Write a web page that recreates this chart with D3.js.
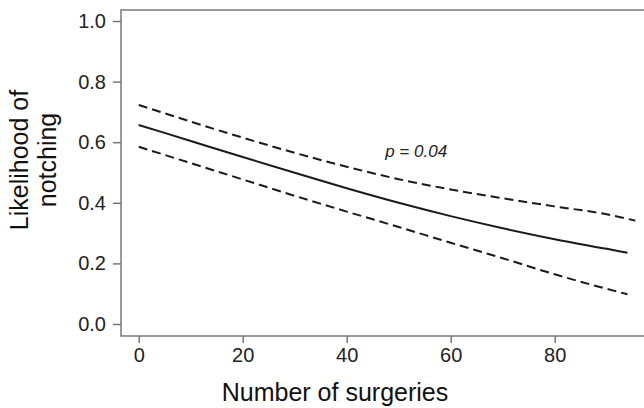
<!DOCTYPE html>
<html lang="en">
<head>
    <meta charset="UTF-8">
    <title>Likelihood of notching</title>
    <script src="https://cdn.jsdelivr.net/npm/d3@7/dist/d3.min.js"></script>
    <style>
        body{
            margin: 0;
            background: white;
            font-family: "Liberation Sans", Arial, sans-serif;
        }
        .axis text{
            font-family: "Liberation Sans", Arial, sans-serif;
            font-size: 20px;
            fill: #222;
        }
        .axis .tick line{
            stroke: #707070;
            stroke-width: 1.4;
        }
        .axis path{
            display: none;
        }
        .title{
            font-size: 25px;
            fill: #111;
        }
    </style>
</head>
<body>
<svg id="main" width="644" height="408"></svg>
<script>
    const width = 644, height = 408;

    // data
    const surgeries = [0, 10, 20, 30, 40, 50, 60, 70, 80, 90, 94];
    const fitted = [0.657, 0.604, 0.551, 0.499, 0.448, 0.400, 0.356, 0.316, 0.280, 0.248, 0.235];
    const lower = [0.585, 0.531, 0.477, 0.423, 0.371, 0.320, 0.268, 0.217, 0.164, 0.116, 0.098];
    const upperSurgeries = [0, 10, 20, 30, 40, 50, 60, 70, 80, 90, 95.5];
    const upper = [0.723, 0.668, 0.615, 0.565, 0.519, 0.478, 0.444, 0.415, 0.388, 0.362, 0.341];
    const xTicks = [0, 20, 40, 60, 80];
    const yTicks = [0.0, 0.2, 0.4, 0.6, 0.8, 1.0];
    const pLabel = "p = 0.04";

    const frame = {left: 121, top: 10, bottom: 336, right: 650};

    const xScale = d3.scaleLinear().domain([0, 90]).range([138.7, 606.7]);
    const yScale = d3.scaleLinear().domain([0, 1]).range([324, 21]);

    const svg = d3.select('svg#main');

    // box round the plot (right side is cut off)
    svg.append("rect")
        .attr("x", frame.left)
        .attr("y", frame.top)
        .attr("width", frame.right - frame.left)
        .attr("height", frame.bottom - frame.top)
        .attr("fill", "none")
        .attr("stroke", "#707070")
        .attr("stroke-width", 1.4);

    const xAxis = d3.axisBottom(xScale)
        .tickValues(xTicks)
        .tickFormat(d3.format("d"))
        .tickSize(7)
        .tickPadding(5);
    svg.append("g")
        .attr("class", "axis")
        .attr("transform", `translate(0,${frame.bottom})`)
        .call(xAxis);

    const yAxis = d3.axisLeft(yScale)
        .tickValues(yTicks)
        .tickFormat(d3.format(".1f"))
        .tickSize(8)
        .tickPadding(7);
    svg.append("g")
        .attr("class", "axis")
        .attr("transform", `translate(${frame.left},0)`)
        .call(yAxis);

    const line = d3.line()
        .x(d => xScale(d[0]))
        .y(d => yScale(d[1]))
        .curve(d3.curveMonotoneX);

    const series = [
        {pts: d3.zip(upperSurgeries, upper), dash: "9,5"},
        {pts: d3.zip(surgeries, lower), dash: "9,5"},
        {pts: d3.zip(surgeries, fitted), dash: null}
    ];

    svg.selectAll("path.curve")
        .data(series)
        .join("path")
        .attr("class", "curve")
        .attr("d", d => line(d.pts))
        .attr("fill", "none")
        .attr("stroke", "#1a1a1a")
        .attr("stroke-width", 2)
        .attr("stroke-dasharray", d => d.dash);

    // p value annotation
    svg.append("text")
        .attr("x", xScale(47.4))
        .attr("y", yScale(0.552))
        .attr("font-size", "17px")
        .attr("font-style", "italic")
        .attr("fill", "#222")
        .text(pLabel);

    // axis titles
    svg.append("text")
        .attr("class", "title")
        .attr("x", 335)
        .attr("y", 401)
        .attr("text-anchor", "middle")
        .text("Number of surgeries");

    const yTitle = svg.append("text")
        .attr("class", "title")
        .attr("transform", "translate(0,160) rotate(-90)")
        .attr("text-anchor", "middle");
    yTitle.append("tspan").attr("x", 0).attr("y", 28).text("Likelihood of");
    yTitle.append("tspan").attr("x", 0).attr("y", 56).text("notching");
</script>
</body>
</html>
